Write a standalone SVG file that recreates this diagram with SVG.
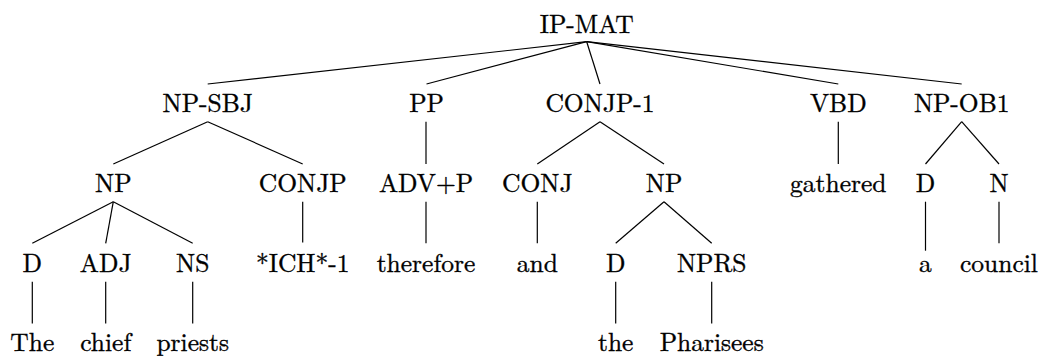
<svg xmlns="http://www.w3.org/2000/svg" width="1043" height="356" viewBox="0 0 1043 356">
  <style>
    text { font-size: 25.5px; fill: #000; stroke: #000; stroke-width: 0.35; text-anchor: middle; }
    line { stroke: #000; stroke-width: 1.2; }
  </style>
  <rect width="1043" height="356" fill="#fff"/>

  <!-- tree edges -->
  <g id="edges">
    <!-- IP-MAT -->
    <line x1="586.7" y1="41.7" x2="207.7" y2="84"/>
    <line x1="586.7" y1="41.7" x2="426.5" y2="84"/>
    <line x1="586.7" y1="41.7" x2="600" y2="84"/>
    <line x1="586.7" y1="41.7" x2="838.3" y2="84"/>
    <line x1="586.7" y1="41.7" x2="961.7" y2="84"/>
    <!-- NP-SBJ -->
    <line x1="207.7" y1="121.7" x2="113.3" y2="164"/>
    <line x1="207.7" y1="121.7" x2="302.7" y2="164"/>
    <!-- PP -->
    <line x1="426" y1="121.7" x2="426" y2="164"/>
    <!-- CONJP-1 -->
    <line x1="600" y1="121.7" x2="537.3" y2="164"/>
    <line x1="600" y1="121.7" x2="664" y2="164"/>
    <!-- VBD -->
    <line x1="838.3" y1="121.7" x2="838.3" y2="164"/>
    <!-- NP-OB1 -->
    <line x1="961.7" y1="121.7" x2="925.5" y2="164"/>
    <line x1="961.7" y1="121.7" x2="999" y2="164"/>
    <!-- NP (subject) -->
    <line x1="113.3" y1="201.7" x2="32.3" y2="243.3"/>
    <line x1="113.3" y1="201.7" x2="105.7" y2="243.3"/>
    <line x1="113.3" y1="201.7" x2="192.7" y2="243.3"/>
    <!-- CONJP -->
    <line x1="302.7" y1="201.7" x2="302.7" y2="242.5"/>
    <!-- ADV+P -->
    <line x1="426" y1="201.7" x2="426" y2="243.3"/>
    <!-- CONJ -->
    <line x1="537.3" y1="201.7" x2="537.3" y2="243.3"/>
    <!-- NP (conjunct) -->
    <line x1="664" y1="201.7" x2="615.7" y2="243.3"/>
    <line x1="664" y1="201.7" x2="711.7" y2="243.3"/>
    <!-- D, N under NP-OB1 -->
    <line x1="925.5" y1="201.7" x2="925.5" y2="250.7"/>
    <line x1="999" y1="201.7" x2="999" y2="243.3"/>
    <!-- preterminals to words -->
    <line x1="32.3" y1="281.7" x2="32.3" y2="323.5"/>
    <line x1="105.7" y1="281.7" x2="105.7" y2="323.5"/>
    <line x1="192.7" y1="281.7" x2="192.7" y2="323.5"/>
    <line x1="615.7" y1="281.7" x2="615.7" y2="323.5"/>
    <line x1="711.7" y1="281.7" x2="711.7" y2="323.5"/>
  </g>

  <g id="labels" font-family="Latin Modern Roman, Liberation Serif, serif">
    <!-- level 0 -->
    <g id="ip-mat"><text x="586.7" y="32.5">IP-MAT</text></g>

    <!-- level 1 -->
    <g id="np-sbj"><text x="207.7" y="111.5">NP-SBJ</text></g>
    <g id="pp"><text x="426.5" y="111.5">PP</text></g>
    <g id="conjp-1"><text x="600" y="111.5">CONJP-1</text></g>
    <g id="vbd"><text x="838.3" y="111.5">VBD</text></g>
    <g id="np-ob1"><text x="961.7" y="111.5">NP-OB1</text></g>

    <!-- level 2 -->
    <g id="np-1"><text x="113.3" y="192">NP</text></g>
    <g id="conjp"><text x="302.7" y="192">CONJP</text></g>
    <g id="adv-p"><text x="426" y="192">ADV+P</text></g>
    <g id="conj"><text x="537.3" y="192">CONJ</text></g>
    <g id="np-2"><text x="664" y="192">NP</text></g>
    <g id="gathered"><text x="838.3" y="192">gathered</text></g>
    <g id="d-3"><text x="925.5" y="192">D</text></g>
    <g id="n"><text x="999" y="192">N</text></g>

    <!-- level 3 -->
    <g id="d-1"><text x="32.3" y="272">D</text></g>
    <g id="adj"><text x="105.7" y="272">ADJ</text></g>
    <g id="ns"><text x="192.7" y="272">NS</text></g>
    <g id="ich"><text x="302.7" y="272">*ICH*-1</text></g>
    <g id="therefore"><text x="426" y="272">therefore</text></g>
    <g id="and"><text x="537.3" y="272">and</text></g>
    <g id="d-2"><text x="615.7" y="272">D</text></g>
    <g id="nprs"><text x="711.7" y="272">NPRS</text></g>
    <g id="a"><text x="925.5" y="272">a</text></g>
    <g id="council"><text x="999" y="272">council</text></g>

    <!-- level 4 -->
    <g id="the-1"><text x="32.3" y="350.5">The</text></g>
    <g id="chief"><text x="105.7" y="350.5">chief</text></g>
    <g id="priests"><text x="192.7" y="350.5">priests</text></g>
    <g id="the-2"><text x="615.7" y="350.5">the</text></g>
    <g id="pharisees"><text x="711.7" y="350.5">Pharisees</text></g>
  </g>
</svg>
